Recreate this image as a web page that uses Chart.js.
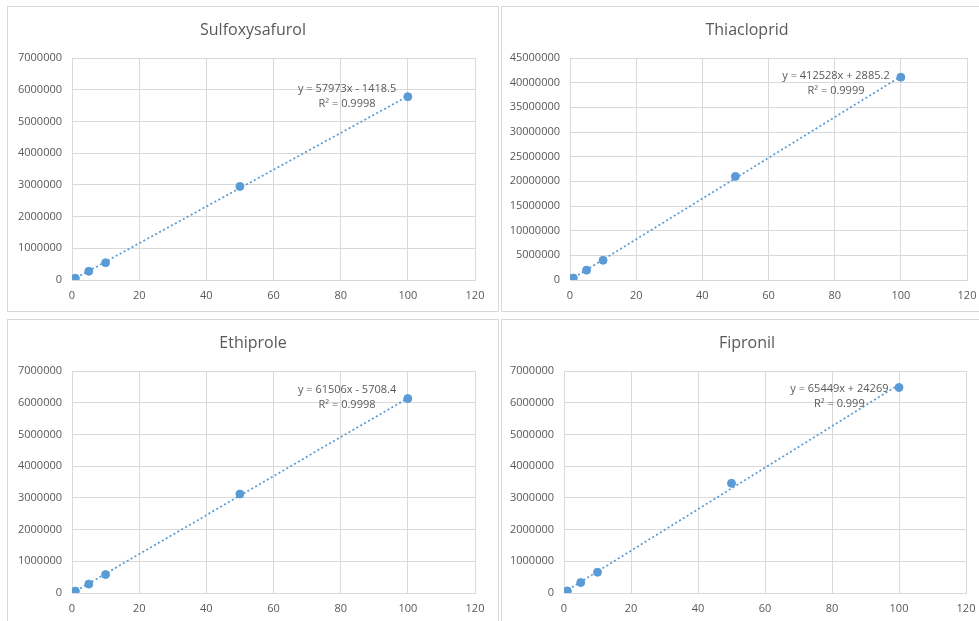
<!DOCTYPE html>
<html>
<head>
<meta charset="utf-8">
<script src="https://cdn.jsdelivr.net/npm/chart.js@4.4.1/dist/chart.umd.min.js"></script>
<style>
    html, body { margin: 0; padding: 0; background: #fff; width: 979px; height: 621px; overflow: hidden; position: relative; }
    .panel { position: absolute; width: 492px; height: 306px; border: 1px solid #d9d9d9; box-sizing: border-box; background: #fff; }
    .panel canvas { display: block; }
</style>
</head>
<body>
<div class="panel" style="left:7px; top:6px;"><canvas id="canvas1" width="490" height="304"></canvas></div>
<div class="panel" style="left:501px; top:6px;"><canvas id="canvas2" width="490" height="304"></canvas></div>
<div class="panel" style="left:7px; top:319px;"><canvas id="canvas3" width="490" height="304"></canvas></div>
<div class="panel" style="left:501px; top:319px;"><canvas id="canvas4" width="490" height="304"></canvas></div>

<script>
const COLOR_SERIE = '#5b9bd5';
const COLOR_TEXTO = '#595959';
const COLOR_REJILLA = '#d9d9d9';

// concentraciones de la curva de calibración
const concentraciones = [0.1, 0.5, 1, 5, 10, 50, 100];

const areasSulfoxysafurol = [5000, 28000, 56000, 275000, 545000, 2950000, 5780000];
const areasThiacloprid = [40000, 200000, 400000, 2000000, 4000000, 21000000, 41100000];
const areasEthiprole = [6000, 30000, 60000, 280000, 580000, 3120000, 6130000];
const areasFipronil = [6500, 32000, 65000, 330000, 655000, 3460000, 6480000];

const titulos = ['Sulfoxysafurol', 'Thiacloprid', 'Ethiprole', 'Fipronil'];
const ecuaciones = ['y = 57973x - 1418.5', 'y = 412528x + 2885.2', 'y = 61506x - 5708.4', 'y = 65449x + 24269'];
const textosR2 = ['R² = 0.9998', 'R² = 0.9999', 'R² = 0.9998', 'R² = 0.999'];
const pendientes = [57973, 412528, 61506, 65449];
const ordenadas = [-1418.5, 2885.2, -5708.4, 24269];

const ticksX = [0, 20, 40, 60, 80, 100, 120];
const ticksY7M = [0, 1000000, 2000000, 3000000, 4000000, 5000000, 6000000, 7000000];
const ticksY45M = [0, 5000000, 10000000, 15000000, 20000000, 25000000, 30000000, 35000000, 40000000, 45000000];

Chart.defaults.font.family = '"Open Sans", "Noto Sans", sans-serif';
Chart.defaults.color = COLOR_TEXTO;

// título centrado en todo el panel + etiqueta de la línea de tendencia (ecuación + R²)
const pluginTextos = {
    id: 'textos',
    afterDatasetsDraw(chart, args, opts) {
        const { ctx, scales } = chart;
        ctx.save();
        ctx.fillStyle = COLOR_TEXTO;
        ctx.textAlign = 'center';
        ctx.textBaseline = 'middle';

        ctx.font = '16px "Open Sans", sans-serif';
        ctx.fillText(opts.titulo, chart.width / 2, 23);

        const px = scales.x.getPixelForValue(opts.x);
        const py = scales.y.getPixelForValue(opts.y);
        ctx.font = '11px "Open Sans", sans-serif';
        ctx.fillText(opts.ecuacion, px, py);
        ctx.fillText(opts.r2, px, py + 15);
        ctx.restore();
    }
};

function crearGrafica(i, canvasId, areas, ticksY, anchoEjeY, padDerecho, etiqueta) {
    const ctx = document.getElementById(canvasId);
    const puntos = concentraciones.map((c, k) => ({ x: c, y: areas[k] }));
    const xMin = concentraciones[0];
    const xMax = concentraciones[concentraciones.length - 1];
    const tendencia = [
        { x: xMin, y: pendientes[i] * xMin + ordenadas[i] },
        { x: xMax, y: pendientes[i] * xMax + ordenadas[i] }
    ];

    return new Chart(ctx, {
        type: 'scatter',
        data: {
            datasets: [
                {
                    data: puntos,
                    backgroundColor: COLOR_SERIE,
                    borderColor: COLOR_SERIE,
                    pointRadius: 4,
                    pointHoverRadius: 4,
                    order: 1
                },
                {
                    type: 'line',
                    data: tendencia,
                    borderColor: COLOR_SERIE,
                    borderWidth: 1.75,
                    borderDash: [2, 2.5],
                    pointRadius: 0,
                    fill: false,
                    order: 2
                }
            ]
        },
        options: {
            responsive: false,
            animation: false,
            layout: { padding: { top: 51, right: padDerecho, bottom: 0, left: 0 } },
            plugins: {
                legend: { display: false },
                tooltip: { enabled: false },
                title: { display: false },
                textos: { titulo: titulos[i], x: etiqueta.x, y: etiqueta.y, ecuacion: ecuaciones[i], r2: textosR2[i] }
            },
            scales: {
                x: {
                    type: 'linear',
                    min: ticksX[0],
                    max: ticksX[ticksX.length - 1],
                    afterBuildTicks: scale => { scale.ticks = ticksX.map(v => ({ value: v })); },
                    afterFit: scale => { scale.height = 31; },
                    grid: { color: COLOR_REJILLA, drawTicks: false },
                    border: { color: COLOR_REJILLA },
                    ticks: { padding: 9, font: { size: 11 }, maxRotation: 0 }
                },
                y: {
                    type: 'linear',
                    min: ticksY[0],
                    max: ticksY[ticksY.length - 1],
                    afterBuildTicks: scale => { scale.ticks = ticksY.map(v => ({ value: v })); },
                    afterFit: scale => { scale.width = anchoEjeY; },
                    grid: { color: COLOR_REJILLA, drawTicks: false },
                    border: { color: COLOR_REJILLA },
                    ticks: { padding: 10, font: { size: 11 }, callback: v => String(v) }
                }
            }
        },
        plugins: [pluginTextos]
    });
}

crearGrafica(0, 'canvas1', areasSulfoxysafurol, ticksY7M, 64, 23, { x: 81.9, y: 6020000 });
crearGrafica(1, 'canvas2', areasThiacloprid, ticksY45M, 68, 25, { x: 80.4, y: 41350000 });
crearGrafica(2, 'canvas3', areasEthiprole, ticksY7M, 64, 23, { x: 81.9, y: 6400000 });
crearGrafica(3, 'canvas4', areasFipronil, ticksY7M, 62, 26, { x: 82.2, y: 6440000 });
</script>
</body>
</html>
